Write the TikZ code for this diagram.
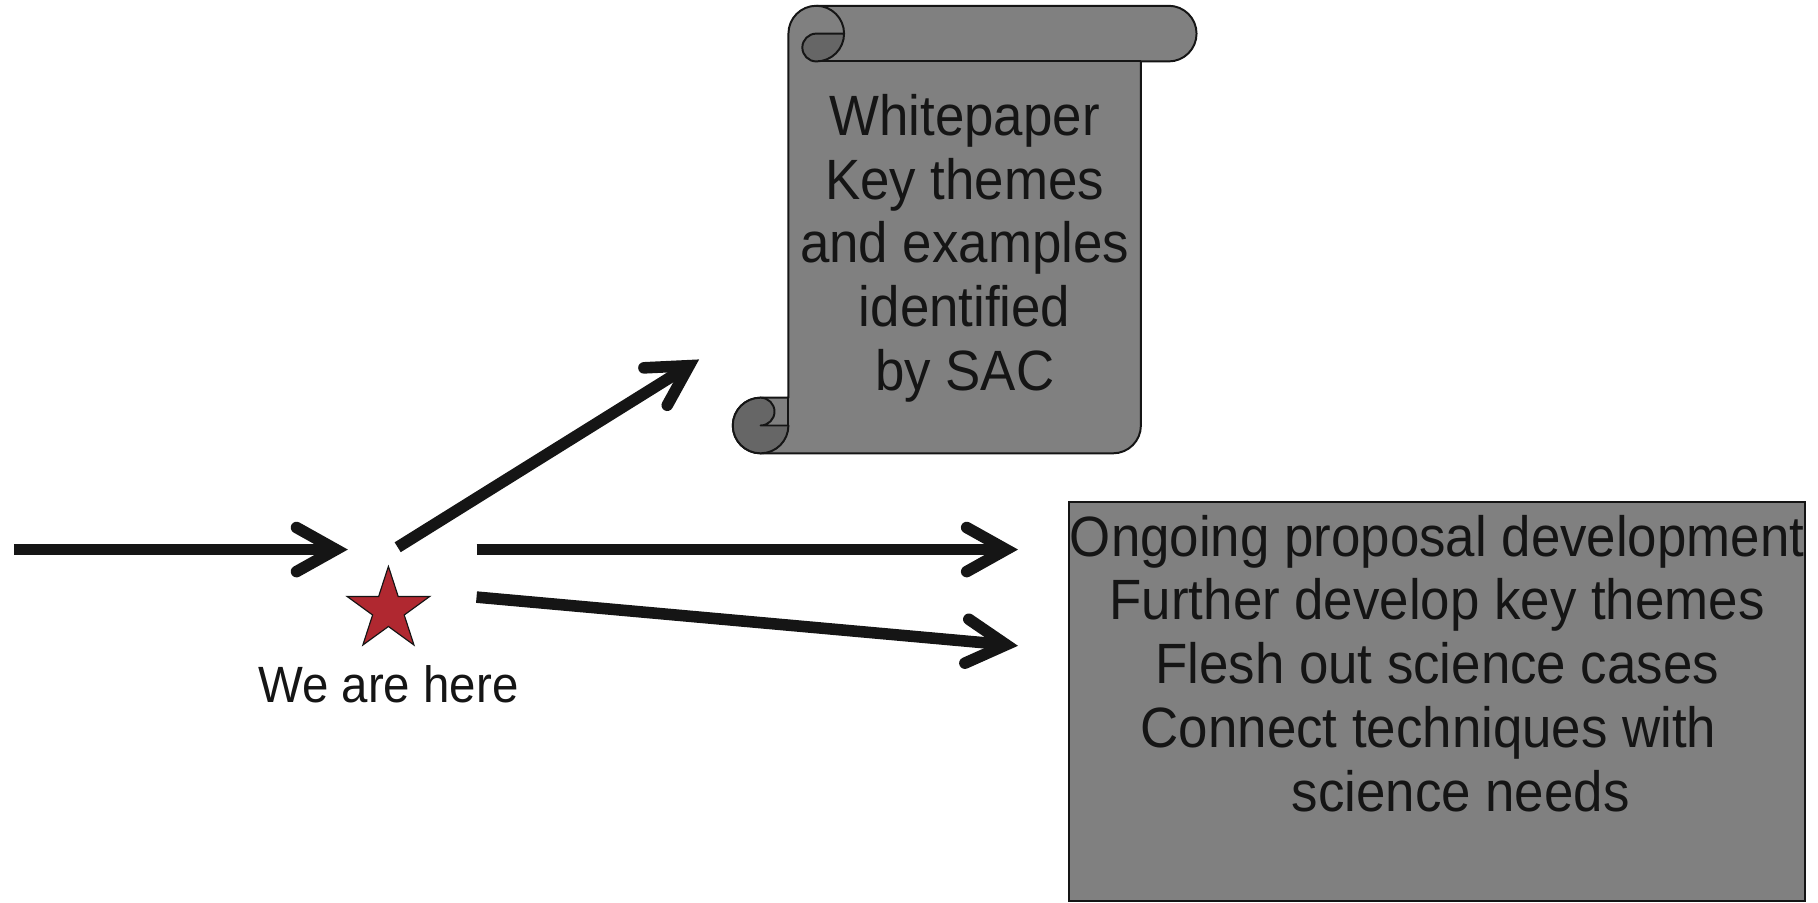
\documentclass[tikz,border=0pt]{standalone}
\usepackage{fontspec}
\newfontfamily\lab{Liberation Sans}[FakeStretch=0.93]
\usetikzlibrary{arrows.meta,shapes.geometric}
\definecolor{ink}{HTML}{151515}
\definecolor{paper}{HTML}{808080}
\definecolor{curl}{HTML}{666666}
\definecolor{starred}{RGB}{176,40,48}
\tikzset{
  outline/.style={draw=ink, line width=1.7pt, line join=round},
  flow/.style={draw=ink, line width=10pt, line cap=butt,
    -{Straight Barb[length=34pt, width=38pt, line cap=round, line join=miter]}},
  bigtext/.style={font=\lab\fontsize{49}{55}\selectfont, text=ink, align=center, inner sep=0pt},
  midtext/.style={font=\lab\fontsize{44}{50}\selectfont, text=ink, inner sep=0pt},
}
\begin{document}
\begin{tikzpicture}[x=1pt, y=1pt]
\useasboundingbox (0,0) rectangle (1568,778);

% scroll: body with top roll and bottom roll
\path[outline, fill=paper] (704,773) -- (1008,773) arc[start angle=90, end angle=-90, radius=24]
  -- (984,725) -- (984,411) arc[start angle=0, end angle=-90, radius=24]
  -- (656,387) arc[start angle=270, end angle=90, radius=24]
  -- (680,435) -- (680,749) arc[start angle=180, end angle=90, radius=24] -- cycle;
\draw[outline] (704,725) -- (984,725);
\draw[outline] (704,773) arc[start angle=90, end angle=0, radius=24];
\path[outline, fill=curl] (704,749) -- (728,749) arc[start angle=0, end angle=-90, radius=24]
  arc[start angle=270, end angle=90, radius=12] -- cycle;
\path[outline, fill=curl] (656,435) arc[start angle=90, end angle=-90, radius=12]
  -- (680,411) arc[start angle=0, end angle=-270, radius=24] -- cycle;
\draw[outline] (680,411) -- (680,435);

\node[bigtext, anchor=north] (paper) at (832,697)
  {Whitepaper\\Key themes\\and examples\\identified\\by SAC};

% plan box
\node[draw=ink, line width=1.7pt, fill=paper, minimum width=635pt, minimum height=344pt,
  inner sep=0pt] (plan) at (1239.5,173) {};
\node[bigtext, anchor=north] (plantext) at (1239.5,334)
  {Ongoing proposal development\\Further develop key themes\\Flesh out science cases\\
   Connect techniques with\hspace*{0.3em}\mbox{}\\\hspace*{0.83em}science needs};

% current position marker
\node[star, star points=5, star point ratio=2.618, minimum size=75pt, inner sep=0pt,
  draw=ink, line width=1pt, fill=starred] (here) at (335,252) {};
\node[midtext, anchor=base] (herelabel) at (335,172) {We are here};

% connectors
\coordinate (past) at (12,304);
\coordinate (arrive) at (300,304);
\coordinate (upfrom) at (343,306);
\coordinate (upto) at (603,468);
\coordinate (midfrom) at (411,304);
\coordinate (midto) at (878,304);
\coordinate (lowfrom) at (411,263);
\coordinate (lowto) at (878,221);
\draw[flow] (past) -- (arrive);
\draw[flow] (upfrom) -- (upto);
\draw[flow] (midfrom) -- (midto);
\draw[flow] (lowfrom) -- (lowto);
\end{tikzpicture}
\end{document}
